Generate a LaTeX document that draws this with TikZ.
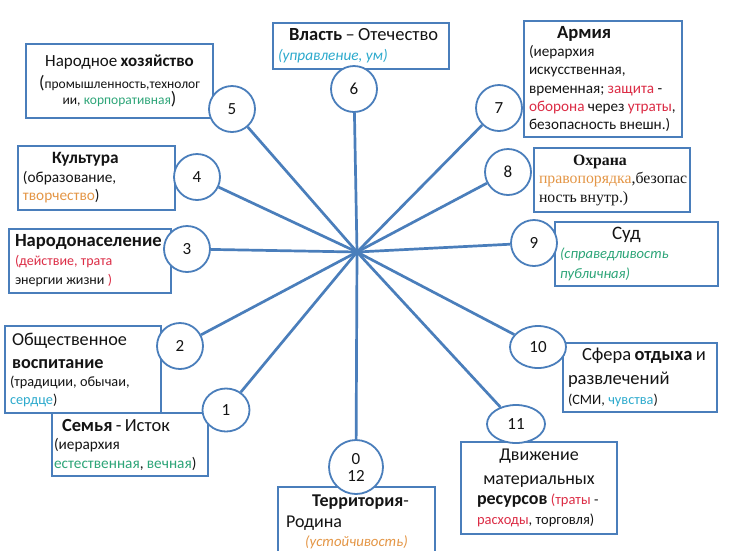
\documentclass[tikz,border=0pt]{standalone}
\usepackage{fontspec}
\setmainfont{Carlito}
\newfontfamily\serifrm{Liberation Serif}
\usetikzlibrary{shapes.geometric}
\pgfdeclarelayer{paper}
\pgfdeclarelayer{spokes}
\pgfsetlayers{paper,spokes,main}
\definecolor{lineblue}{RGB}{74,126,187}
\definecolor{cred}{RGB}{220,45,70}
\definecolor{cgreen}{RGB}{45,165,120}
\definecolor{ccyan}{RGB}{45,170,205}
\definecolor{corange}{RGB}{228,150,70}
\definecolor{ctext}{RGB}{20,20,20}
\newcommand{\fs}[2]{\fontsize{#1}{#2}\selectfont}
\begin{document}
\begin{tikzpicture}[x=1pt,y=-1pt,
  box/.style={draw=lineblue, line width=1.8pt, fill=white, rectangle, inner xsep=5pt, inner ysep=2pt, text=ctext},
  num/.style={draw=lineblue, line width=1.8pt, fill=white, circle, minimum size=46pt, inner sep=0pt, text=ctext, font=\fs{17}{18}},
  numell/.style={draw=lineblue, line width=1.8pt, fill=white, ellipse, inner sep=0pt, text=ctext, font=\fs{17}{18}},
  spoke/.style={draw=lineblue, line width=2.7pt}]
\useasboundingbox (0,0) rectangle (733,550);
\begin{pgfonlayer}{paper}
\fill[white] (0,0) rectangle (733,550);
\end{pgfonlayer}
\coordinate (hub) at (357,252);

% boxes
\node[box, inner xsep=2pt, minimum width=156pt, minimum height=63pt, text width=152pt] (b1) at (130,444.5)
 {\fs{18.5}{21}\hspace*{8pt}\textbf{Семья} - Исток\par\fs{15.3}{18.5}(иерархия\par\mbox{\textcolor{cgreen}{естественная}, \textcolor{cgreen}{вечная})}\par};
\node[box, minimum width=156pt, minimum height=87pt, text width=146pt] (b2) at (83,369.5)
 {\fs{18.2}{23}\hspace*{2pt}Общественное\par\hspace*{2pt}\textbf{воспитание}\par\fs{14.3}{18}(традиции, обычаи,\par\textcolor{ccyan}{сердце})\par};
\node[box, minimum width=162pt, minimum height=64pt, text width=152pt] (b3) at (90,261)
 {\fs{18.6}{21}\mbox{\hspace*{1pt}\textbf{Народонаселение}}\par\fs{14}{19}\hspace*{1pt}\textcolor{cred}{(действие, трата}\par\hspace*{1pt}энергии жизни \textcolor{cred}{)}\par};
\node[box, minimum width=157pt, minimum height=64pt, text width=147pt] (b4) at (96.5,178)
 {\fs{17.3}{20}\hspace*{29pt}\textbf{Культура}\par\fs{15.3}{18.5}(образование,\par\textcolor{corange}{творчество})\par};
\node[box, minimum width=187pt, minimum height=74pt, text width=177pt, align=center] (b5) at (119.5,81)
 {\fs{17}{23}Народное \textbf{хозяйство}\\\fs{13.5}{22}{\fs{18}{19}(}промышленность,технолог\\ии, \textcolor{cgreen}{корпоративная}{\fs{18}{19})}};
\node[box, minimum width=176pt, minimum height=46pt, text width=166pt] (b6) at (361,46)
 {\fs{18.5}{21}\mbox{\hspace*{11pt}\textbf{Власть} -- Отечество}\par\fs{15.3}{20}\textcolor{ccyan}{\itshape(управление, ум)}\par};
\node[box, minimum width=158pt, minimum height=116pt, text width=148pt] (b7) at (603,79)
 {\fs{18.6}{20}\hspace*{28pt}\textbf{Армия}\par\fs{15.2}{18.3}(иерархия\par искусственная,\par временная; \textcolor{cred}{защита} -\par\textcolor{cred}{оборона} через \textcolor{cred}{утраты},\par безопасность внешн.)\par};
\node[box, minimum width=156pt, minimum height=64pt, text width=146pt, font=\serifrm] (b8) at (612,180)
 {\fs{15.8}{18.5}\hspace*{34pt}\textbf{Охрана}\par\textcolor{corange}{правопорядка},безопас\par ность внутр.)\par};
\node[box, minimum width=163pt, minimum height=64pt, text width=153pt] (b9) at (636.5,254)
 {\fs{19}{20}\hspace*{52pt}Суд\par\fs{14.6}{19.5}{\color{cgreen}\itshape(справедливость\par публичная)\par}};
\node[box, minimum width=154pt, minimum height=69pt, text width=144pt] (b10) at (640,377.5)
 {\fs{18.5}{24}\hspace*{14pt}Сфера \textbf{отдыха} и\par развлечений\par\fs{14.3}{20}(СМИ, \textcolor{ccyan}{чувства})\par};
\node[box, minimum width=156pt, minimum height=92pt, text width=146pt] (b11) at (539,488)
 {{\centering\fs{18}{24}Движение\par материальных\par}\fs{18}{23}\hspace*{11pt}\textbf{ресурсов} \fs{14.5}{20}\textcolor{cred}{(траты} -\par\hspace*{11pt}\textcolor{cred}{расходы}, торговля)\par};
\node[box, minimum width=157pt, minimum height=70pt, text width=147pt] (b0) at (356.5,522)
 {{\centering\fs{18}{20}\hspace*{8pt}\textbf{Территория}-\par}\fs{18}{21}\hspace*{3pt}Родина\par\centering\fs{14.8}{19}{\color{corange}\itshape(устойчивость)}\par};

% number circles
\node[num] (c6) at (354,89) {6};
\node[num] (c5) at (232,109) {5};
\node[num] (c7) at (499,108) {7};
\node[num] (c4) at (197,177) {4};
\node[num] (c8) at (508,172) {8};
\node[num] (c3) at (187,249) {3};
\node[num] (c9) at (534,243) {9};
\node[num] (c2) at (180,346) {2};
\node[numell, minimum width=56pt, minimum height=42pt] (c10) at (538,347) {10};
\node[numell, minimum width=47pt, minimum height=43pt] (c1) at (226,410) {1};
\node[numell, minimum width=58pt, minimum height=38pt] (c11) at (516,424) {11};
\node[num, minimum size=54pt, align=center] (c0) at (356,467) {0\\[-1pt]12};

% spokes
\begin{pgfonlayer}{spokes}
\foreach \c in {c1,c2,c3,c4,c5,c6,c7,c8,c9,c10,c11,c0}{
  \draw[spoke] (hub) -- (\c);
}
\end{pgfonlayer}
\end{tikzpicture}
\end{document}
